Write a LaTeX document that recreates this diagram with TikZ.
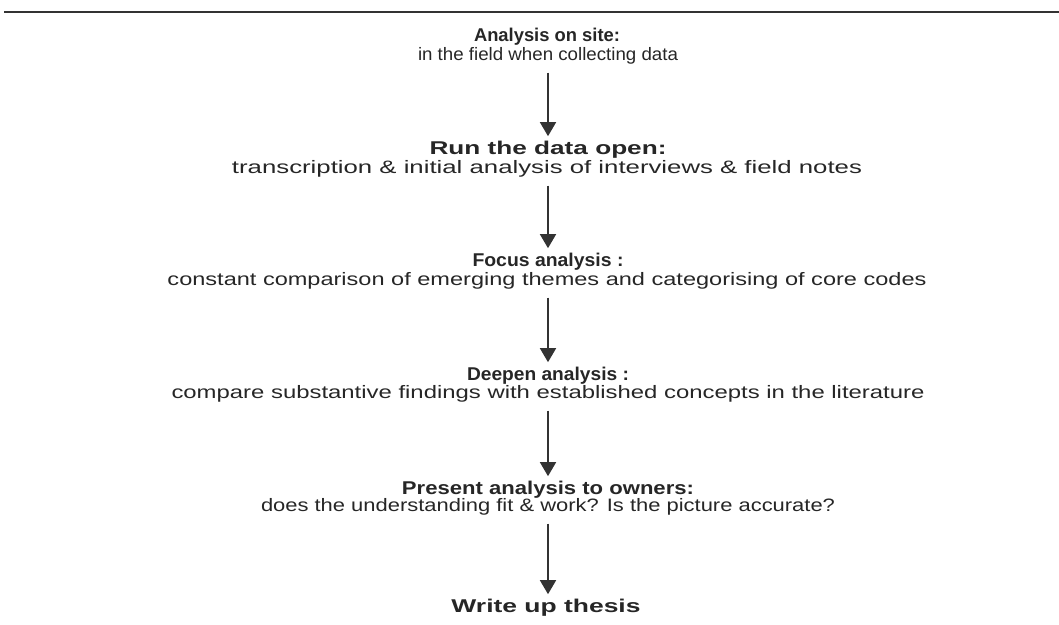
\documentclass[tikz,border=0pt]{standalone}
\usepackage{fontspec}
\setmainfont{Liberation Sans}
\usepackage{graphicx}
\usetikzlibrary{arrows.meta}
\begin{document}
\begin{tikzpicture}[x=1pt,y=-1pt,
  ttl/.style={inner sep=0pt,font=\fontsize{18.5}{20}\selectfont\bfseries,text=black!85},
  sub/.style={inner sep=0pt,font=\fontsize{18}{20}\selectfont,text=black!85},
  arr/.style={draw=black!80,line width=1.6pt,-{Triangle[width=16pt,length=14pt]},shorten <=8pt,shorten >=5pt}]
\useasboundingbox (0,0) rectangle (1059,624);
\draw[black!80,line width=2pt] (4,12) -- (1059,12);
\node[ttl] (t1) at (547,37) {\resizebox{146pt}{\height}{Analysis on site:}};
\node[sub] (s1) at (548,56) {\resizebox{260pt}{\height}{in the field when collecting data}};
\node[ttl] (t2) at (548,150) {\resizebox{237pt}{\height}{Run the data open:}};
\node[sub] (s2) at (547,169) {\resizebox{630pt}{\height}{transcription \& initial analysis of interviews \& field notes}};
\node[ttl] (t3) at (548,262) {\resizebox{151pt}{\height}{Focus analysis :}};
\node[sub] (s3) at (547,281) {\resizebox{759pt}{\height}{constant comparison of emerging themes and categorising of core codes}};
\node[ttl] (t4) at (548,376) {\resizebox{162pt}{\height}{Deepen analysis :}};
\node[sub] (s4) at (548,394) {\resizebox{753pt}{\height}{compare substantive findings with established concepts in the literature}};
\node[ttl] (t5) at (548,490) {\resizebox{292pt}{\height}{Present analysis to owners:}};
\node[sub] (s5) at (548,507) {\resizebox{574pt}{\height}{does the understanding fit \& work? Is the picture accurate?}};
\node[ttl] (t6) at (546,608) {\resizebox{189pt}{\height}{Write up thesis}};
\draw[arr] (s1.south -| 548,0) -- (t2.north -| 548,0);
\draw[arr] (s2.south -| 548,0) -- (t3.north -| 548,0);
\draw[arr] (s3.south -| 548,0) -- (t4.north -| 548,0);
\draw[arr] (s4.south -| 548,0) -- (t5.north -| 548,0);
\draw[arr] (s5.south -| 548,0) -- (t6.north -| 548,0);
\end{tikzpicture}
\end{document}
